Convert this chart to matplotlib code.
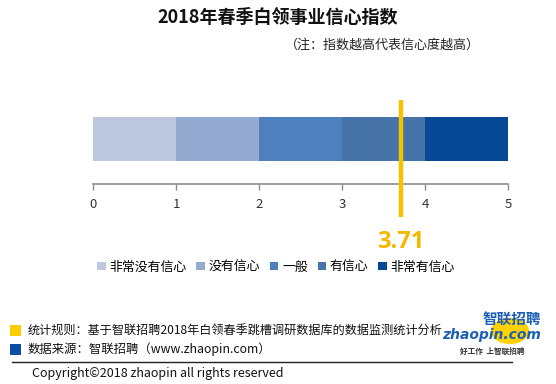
import matplotlib
matplotlib.use("Agg")
import matplotlib.pyplot as plt
from matplotlib.patches import Rectangle, Circle
from matplotlib.lines import Line2D

plt.rcParams['font.family'] = ['Noto Sans CJK SC', 'DejaVu Sans']

# ---- data ----
categories = ["非常没有信心", "没有信心", "一般", "有信心", "非常有信心"]
seg_starts = [0, 1, 2, 3, 4]
seg_widths = [1, 1, 1, 1, 1]
colors = ["#BDC8E0", "#95AAD1", "#4E80BD", "#4673A8", "#074896"]
index_value = 3.71
xticks = [0, 1, 2, 3, 4, 5]
title = "2018年春季白领事业信心指数"
subtitle = "（注：指数越高代表信心度越高）"

W, H = 556, 384
fig = plt.figure(figsize=(W / 100, H / 100), dpi=100)

def fx(px):
    return px / W

def fy(py):
    return 1 - py / H

# axes: x from px 93 to 508, y from px 95 to 184
ax_top, ax_bot = 95, 184
ax = fig.add_axes([fx(93), fy(ax_bot), fx(508) - fx(93), (ax_bot - ax_top) / H])
ax.set_xlim(0, 5)
ax.set_ylim(0, ax_bot - ax_top)

ax.barh([45] * len(categories), seg_widths, left=seg_starts, height=44,
        color=colors, edgecolor='none', label=None)

# yellow index line
ax.plot([index_value, index_value], [84, -33], color="#F5C200", lw=3.2,
        clip_on=False, solid_capstyle='butt', zorder=5)
ax.text(index_value, -58, f"{index_value:.2f}", ha='center', va='center',
        fontsize=17, fontweight='bold', color="#F5B800",
        family=['Open Sans', 'DejaVu Sans'])

for s in ['top', 'left', 'right']:
    ax.spines[s].set_visible(False)
ax.spines['bottom'].set_color('#8C8C8C')
ax.spines['bottom'].set_linewidth(1.2)
ax.set_yticks([])
ax.set_xticks(xticks)
ax.set_xticklabels([str(t) for t in xticks], fontsize=9.5, color='#333333')
ax.tick_params(axis='x', length=4, color='#8C8C8C', width=1, pad=6)

# title / subtitle
fig.text(fx(278), fy(17), title, ha='center', va='center', fontsize=13,
         fontweight='bold', color='#111111')
fig.text(fx(480), fy(45), subtitle, ha='right', va='center', fontsize=9.4,
         color='#222222')

# legend
handles = [Rectangle((0, 0), 1, 1, facecolor=c, edgecolor='none') for c in colors]
fig.legend(handles, categories, loc='center', bbox_to_anchor=(fx(276), fy(267)),
           ncol=5, frameon=False, fontsize=9.3, handlelength=0.65, handleheight=0.65,
           handletextpad=0.3, columnspacing=0.75, borderpad=0)

# footer
fig.patches.append(Rectangle((fx(10), fy(336)), fx(11), 11 / H, transform=fig.transFigure,
                             facecolor="#FFCC00", edgecolor='none'))
fig.patches.append(Rectangle((fx(10), fy(355)), fx(11), 11 / H, transform=fig.transFigure,
                             facecolor="#0A4DA2", edgecolor='none'))
fig.text(fx(28), fy(330), "统计规则：基于智联招聘2018年白领春季跳槽调研数据库的数据监测统计分析",
         ha='left', va='center', fontsize=8.7, color='#111111')
fig.text(fx(28), fy(349), "数据来源：智联招聘（www.zhaopin.com）",
         ha='left', va='center', fontsize=8.9, color='#111111')
fig.lines.append(Line2D([fx(12), fx(512)], [fy(362), fy(362)], transform=fig.transFigure,
                        color='#222222', lw=1))
fig.text(fx(32), fy(374), "Copyright©2018 zhaopin all rights reserved",
         ha='left', va='center', fontsize=9, color='#111111')

# logo approximation
fig.patches.append(Circle((fx(510), fy(331)), 19 / W, transform=fig.transFigure,
                          facecolor="#FFD200", edgecolor='none'))
fig.text(fx(541), fy(319), "智联招聘", ha='right', va='center', fontsize=10.5,
         fontweight='bold', style='italic', color='#1C5FB4')
fig.text(fx(541), fy(335), "zhaopin.com", ha='right', va='center', fontsize=10,
         fontweight='bold', style='italic', color='#1C5FB4', family=['DejaVu Sans'])
fig.text(fx(525), fy(351), "好工作  上智联招聘", ha='right', va='center', fontsize=5.5,
         fontweight='bold', color='#333333')

fig.savefig("out.png", dpi=100, facecolor='white')
